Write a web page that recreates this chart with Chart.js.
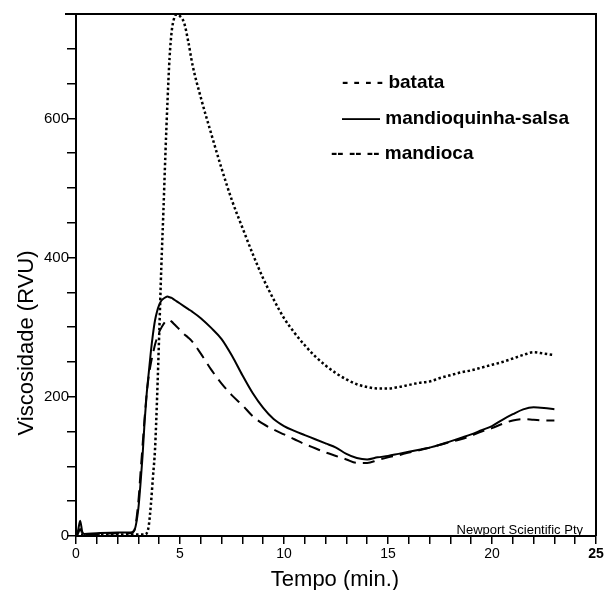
<!DOCTYPE html>
<html><head><meta charset="utf-8">
<script src="https://cdn.jsdelivr.net/npm/chart.js@4"></script>
<style>html,body{margin:0;padding:0;background:#fff}canvas{display:block}</style>
</head><body>
<canvas id="c" width="607" height="590"></canvas>
<script>
const tempo = [0, 0.1, 0.2, 0.3, 0.4, 1, 2, 2.6, 2.8,
  3.0, 3.1, 3.2, 3.3, 3.4, 3.5, 3.6, 3.7, 3.8, 3.9, 4.0, 4.1, 4.2, 4.3, 4.4, 4.5, 4.6, 4.7, 4.8, 4.9,
  5.0, 5.2, 5.4, 5.6,
  6.0, 6.5, 7.0, 7.5, 8.0, 8.5, 9.0, 9.5, 10.0, 10.5, 11.0, 11.5, 12.0, 12.5, 13.0, 13.5, 14.0, 14.5,
  15.0, 15.5, 16.0, 16.5, 17.0, 17.5, 18.0, 18.5, 19.0, 19.5, 20.0, 20.5, 21.0, 21.5, 22.0, 22.5, 23.0];

const batata = [2, 2, 2, 2, 2, 2, 2, 2, 2,
  2, 2, 2, 2, 4, 15, 45, 85, 125, 200, 290, 385, 465, 550, 625, 688, 725, 742, 749, 749,
  747, 737, 710, 677,
  630, 578, 528, 482, 443, 405, 370, 340, 313, 292, 274, 258, 245, 234, 225, 218, 214, 212,
  212, 214, 217, 220, 222, 227, 231, 235, 238, 242, 246, 250, 255, 260, 264, 262, 260];

const mandioquinhaSalsa = [0, 8, 22, 6, 3, 4, 5, 5, 8,
  40, 75, 115, 165, 205, 235, 265, 290, 310, 323, 332, 338, 341, 343, 344, 343, 342, 340, 338, 336,
  334, 330, 326, 322,
  313, 299, 283, 259, 231, 205, 184, 168, 158, 151, 145, 139, 133, 127, 118, 112, 110, 113,
  115, 118, 121, 124, 127, 131, 136, 141, 146, 152, 158, 167, 175, 182, 185, 184, 182];

const mandioca = [0, 4, 10, 4, 2, 3, 4, 4, 8,
  50, 90, 130, 170, 205, 230, 248, 262, 275, 285, 293, 299, 304, 308, 310, 310, 308, 305, 302, 299,
  296, 290, 285, 279,
  262, 239, 219, 202, 188, 172, 161, 153, 146, 139, 132, 126, 120, 115, 110, 105, 105, 109,
  113, 116, 120, 123, 127, 131, 135, 139, 144, 150, 155, 161, 166, 168, 167, 166, 166];

const seriesNames = ['batata', 'mandioquinha-salsa', 'mandioca'];
const legendTexts = ['- - - - batata', '\u2014\u2014 mandioquinha-salsa', '-- -- -- mandioca'];
const xTitle = 'Tempo (min.)';
const yTitle = 'Viscosidade (RVU)';
const creditText = 'Newport Scientific Pty';

const FONT = '"Liberation Sans", Arial, Helvetica, sans-serif';
Chart.defaults.font.family = FONT;
Chart.defaults.color = '#000';

function pts(arr) { return tempo.map((t, i) => ({ x: t, y: arr[i] })); }

const overlay = {
  id: 'overlay',
  afterDraw(chart) {
    const { ctx, chartArea: a } = chart;
    ctx.save();
    ctx.strokeStyle = '#000';
    ctx.lineWidth = 2;
    ctx.beginPath();
    ctx.moveTo(a.left - 11, a.top);
    ctx.lineTo(a.right, a.top);
    ctx.lineTo(a.right, a.bottom);
    ctx.stroke();

    ctx.fillStyle = '#000';
    ctx.font = '22px ' + FONT;
    ctx.textAlign = 'center';
    ctx.textBaseline = 'alphabetic';
    ctx.fillText(xTitle, 335, 586);
    ctx.save();
    ctx.translate(33, 343);
    ctx.rotate(-Math.PI / 2);
    ctx.fillText(yTitle, 0, 0);
    ctx.restore();

    ctx.font = 'bold 19px ' + FONT;
    ctx.textAlign = 'left';
    ctx.fillText(legendTexts[0], 342, 88);
    ctx.fillText(legendTexts[1], 342, 124);
    ctx.fillText(legendTexts[2], 331, 159);

    ctx.font = '13px ' + FONT;
    ctx.textAlign = 'right';
    ctx.fillText(creditText, 583, 534);
    ctx.restore();
  }
};

new Chart(document.getElementById('c'), {
  type: 'line',
  data: {
    datasets: [
      { label: seriesNames[0], data: pts(batata), borderColor: '#000', borderWidth: 2.5,
        borderDash: [2.5, 2.5], pointRadius: 0, cubicInterpolationMode: 'monotone', fill: false },
      { label: seriesNames[1], data: pts(mandioquinhaSalsa), borderColor: '#000', borderWidth: 2,
        pointRadius: 0, cubicInterpolationMode: 'monotone', fill: false },
      { label: seriesNames[2], data: pts(mandioca), borderColor: '#000', borderWidth: 2,
        borderDash: [12, 7], pointRadius: 0, cubicInterpolationMode: 'monotone', fill: false }
    ]
  },
  options: {
    responsive: false,
    animation: false,
    devicePixelRatio: 1,
    layout: { padding: { top: 14, right: 11, left: 0, bottom: 0 } },
    plugins: { legend: { display: false }, tooltip: { enabled: false } },
    scales: {
      x: {
        type: 'linear', min: 0, max: 25,
        afterFit(s) { s.height = 54; },
        grid: { drawOnChartArea: false, drawTicks: true, tickLength: 8, color: '#000', lineWidth: 1.5 },
        border: { display: true, color: '#000', width: 2 },
        ticks: {
          stepSize: 1, autoSkip: false, maxRotation: 0, padding: 2,
          callback: v => (v % 5 === 0 ? String(v) : ''),
          font: c => (c.tick && c.tick.value === 25 ? { size: 14, weight: 'bold' } : { size: 14 })
        }
      },
      y: {
        type: 'linear', min: 0, max: 750,
        afterFit(s) { s.width = 76; },
        grid: { drawOnChartArea: false, drawTicks: true, tickLength: 9, color: '#000', lineWidth: 1.5 },
        border: { display: true, color: '#000', width: 2 },
        ticks: {
          stepSize: 50, autoSkip: false, padding: -2,
          callback: v => (v % 200 === 0 ? String(v) : ''),
          font: { size: 15 }
        }
      }
    }
  },
  plugins: [overlay]
});
</script>
</body></html>
